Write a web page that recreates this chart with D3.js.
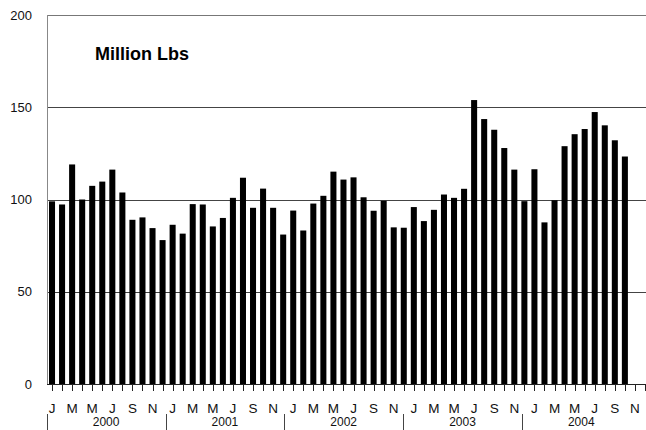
<!DOCTYPE html>
<html>
<head>
<meta charset="utf-8">
<script src="https://cdn.jsdelivr.net/npm/d3@7"></script>
<style>
  body { margin: 0; background: #fff; }
  svg { display: block; font-family: "Liberation Sans", Arial, sans-serif; }
</style>
</head>
<body>
<script>
// data (million lbs per month)
var years = ["2000", "2001", "2002", "2003", "2004"];
var monthLetters = ["J", "F", "M", "A", "M", "J", "J", "A", "S", "O", "N", "D"];
var labelMonths = ["J", "M", "M", "J", "S", "N"]; // every second month gets a label
var yTicks = [0, 50, 100, 150, 200];

var v2000 = [99, 97.3, 119, 100, 107.4, 109.7, 116.2, 103.8, 89, 90.3, 84.5, 78];
var v2001 = [86.3, 81.5, 97.5, 97.3, 85.4, 90, 100.9, 111.8, 95.5, 105.9, 95.5, 81];
var v2002 = [94, 83.2, 97.8, 102, 115.1, 110.8, 112, 101.2, 93.9, 99.3, 84.9, 84.7];
var v2003 = [95.9, 88.3, 94.4, 102.7, 100.9, 105.8, 153.9, 143.6, 137.8, 127.9, 116.2, 99.1];
var v2004 = [116.4, 87.6, 99.6, 128.9, 135.4, 138.2, 147.4, 140.2, 132.1, 123.3];

var width = 646, height = 430;
var plot = { left: 47, right: 650, top: 15, bottom: 384 };

// one slot per month, full years on the axis even where there is no data
var slots = [];
years.forEach(function(y) {
  monthLetters.forEach(function(m, i) {
    slots.push({ key: y + "-" + i, year: y, month: i, letter: m });
  });
});

var allValues = [v2000, v2001, v2002, v2003, v2004];
var bars = [];
allValues.forEach(function(arr, yi) {
  arr.forEach(function(v, i) {
    bars.push({ key: years[yi] + "-" + i, value: v });
  });
});

var xScale = d3.scaleBand()
  .domain(slots.map(function(d) { return d.key; }))
  .range([plot.left, plot.right])
  .paddingInner(0.4)
  .paddingOuter(0.2);

var yScale = d3.scaleLinear().domain([0, 200]).range([plot.bottom, plot.top]);

// the year row in the scan sits a little left of the month grid
var yearScale = d3.scaleBand().domain(years).range([46.7, 640.7]);

var svg = d3.select("body").append("svg")
  .attr("width", width)
  .attr("height", height);

function cx(key) { return xScale(key) + xScale.bandwidth() / 2; }

// gridlines
svg.append("g").selectAll("line")
  .data(yTicks.filter(function(t) { return t > 0; }))
  .enter().append("line")
  .attr("x1", plot.left).attr("x2", width)
  .attr("y1", function(d) { return Math.round(yScale(d)) + 0.5; })
  .attr("y2", function(d) { return Math.round(yScale(d)) + 0.5; })
  .attr("stroke", function(d) { return d === 200 ? "#777" : "#444"; })
  .attr("stroke-width", 1);

// left axis line
svg.append("line")
  .attr("x1", plot.left + 0.5).attr("x2", plot.left + 0.5)
  .attr("y1", plot.top).attr("y2", plot.bottom)
  .attr("stroke", "#888");

// bars
svg.append("g").selectAll("rect")
  .data(bars)
  .enter().append("rect")
  .attr("x", function(d) { return xScale(d.key); })
  .attr("width", xScale.bandwidth())
  .attr("y", function(d) { return yScale(d.value); })
  .attr("height", function(d) { return yScale(0) - yScale(d.value); })
  .attr("fill", "#000");

// baseline
svg.append("line")
  .attr("x1", plot.left).attr("x2", width)
  .attr("y1", plot.bottom + 0.5).attr("y2", plot.bottom + 0.5)
  .attr("stroke", "#222");

// y labels
svg.append("g").selectAll("text")
  .data(yTicks)
  .enter().append("text")
  .attr("x", 32)
  .attr("y", function(d) { return yScale(d); })
  .attr("dy", "0.35em")
  .attr("text-anchor", "end")
  .attr("font-size", 13)
  .attr("fill", "#111")
  .text(function(d) { return d; });

// month ticks
svg.append("g").selectAll("line")
  .data(slots)
  .enter().append("line")
  .attr("x1", function(d) { return Math.round(cx(d.key)) + 0.5; })
  .attr("x2", function(d) { return Math.round(cx(d.key)) + 0.5; })
  .attr("y1", plot.bottom + 1)
  .attr("y2", plot.bottom + 7)
  .attr("stroke", "#222");

// month letters, every second month
svg.append("g").selectAll("text")
  .data(slots.filter(function(d) { return d.month % 2 === 0; }))
  .enter().append("text")
  .attr("x", function(d) { return cx(d.key); })
  .attr("y", 413)
  .attr("text-anchor", "middle")
  .attr("font-size", 13.5)
  .attr("fill", "#111")
  .text(function(d) { return labelMonths[d.month / 2]; });

// year separators and labels
svg.append("g").selectAll("line")
  .data(years)
  .enter().append("line")
  .attr("x1", function(d) { return Math.round(yearScale(d)) + 0.5; })
  .attr("x2", function(d) { return Math.round(yearScale(d)) + 0.5; })
  .attr("y1", 414).attr("y2", 430)
  .attr("stroke", "#444");

svg.append("g").selectAll("text")
  .data(years)
  .enter().append("text")
  .attr("x", function(d) { return yearScale(d) + yearScale.bandwidth() / 2; })
  .attr("y", 426)
  .attr("text-anchor", "middle")
  .attr("font-size", 12)
  .attr("fill", "#111")
  .text(function(d) { return d; });

// title inside the plot
svg.append("text")
  .attr("x", 95)
  .attr("y", 60)
  .attr("font-size", 18)
  .attr("font-weight", "bold")
  .attr("fill", "#000")
  .text("Million Lbs");
</script>
</body>
</html>
